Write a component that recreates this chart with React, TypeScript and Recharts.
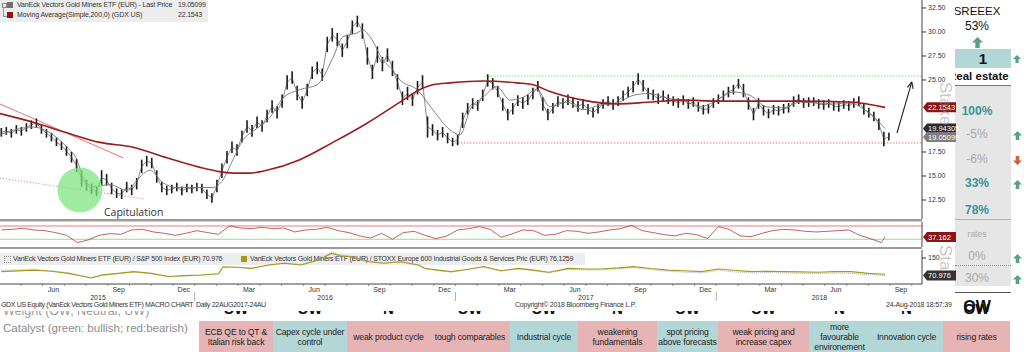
import React from "react";
import {
    ComposedChart,
    Line,
    ErrorBar,
    XAxis,
    YAxis,
    ReferenceLine,
    ReferenceDot,
} from "recharts";

const FONT = "'Liberation Sans', Arial, sans-serif";

// x axis: months since 1 Jan 2015
const X_DOMAIN: [number, number] = [3.04, 45.47];
const FIRST_WEEK = 3.1; // first weekly bar

// weekly [low, high] of VanEck Vectors Gold Miners ETF (EUR)
const bars2015: [number, number][] = [
    [19.1, 20.0], [19.3, 20.1], [19.0, 19.9], [19.4, 20.3], [19.2, 20.1], [19.6, 20.5], [19.9, 20.8], [20.0, 21.0],
    [19.4, 20.4], [19.0, 19.9], [18.6, 19.5], [18.1, 19.0], [17.7, 18.6], [17.1, 18.1], [16.4, 17.5], [15.4, 16.8],
    [13.9, 15.6], [13.5, 14.6], [13.1, 14.2], [12.9, 13.9], [14.0, 15.6], [14.0, 15.2], [13.1, 14.3], [12.7, 13.7],
    [12.6, 13.6], [13.3, 14.4], [13.0, 14.1], [13.6, 14.8], [15.3, 16.7], [16.0, 17.1], [15.8, 16.9], [14.3, 15.6],
    [13.3, 14.4], [13.0, 14.0], [13.2, 14.1], [13.4, 14.3], [13.0, 13.9], [13.3, 14.2], [13.2, 14.1],
];
const bars2016: [number, number][] = [
    [13.4, 14.3], [13.2, 14.2], [12.6, 13.6], [12.2, 13.2], [13.3, 14.6], [14.8, 16.3], [16.3, 17.6], [17.4, 18.6],
    [17.1, 18.3], [18.5, 19.7], [19.5, 20.8], [19.1, 20.3], [20.0, 21.2], [19.6, 20.8], [20.6, 21.9], [21.6, 22.9],
    [21.0, 22.3], [22.1, 23.5], [24.0, 25.5], [24.6, 25.9], [22.9, 24.4], [22.0, 23.3], [23.3, 24.6], [25.1, 26.4],
    [25.6, 26.9], [24.9, 26.2], [27.9, 29.5], [29.0, 30.4], [28.5, 29.9], [27.4, 28.8], [28.3, 29.7], [29.8, 31.2],
    [30.5, 31.7], [29.3, 30.9], [26.6, 28.4], [25.1, 26.6], [26.8, 28.5], [25.9, 27.4], [26.9, 28.3], [25.4, 27.0],
    [24.0, 25.6], [22.4, 23.8], [22.9, 24.3], [22.3, 23.6], [23.5, 24.9], [24.1, 25.5], [19.0, 21.2], [19.2, 20.4],
    [18.7, 19.8], [19.0, 20.1], [18.4, 19.5], [18.1, 19.0],
];
const bars2017: [number, number][] = [
    [18.2, 19.3], [20.0, 21.6], [21.4, 22.6], [22.0, 23.1], [21.8, 22.9], [22.8, 24.0], [24.3, 25.6], [24.0, 25.2],
    [23.2, 24.4], [21.8, 23.1], [20.8, 22.0], [21.4, 22.6], [22.3, 23.4], [22.0, 23.2], [22.4, 23.5], [23.0, 24.2],
    [23.8, 24.9], [21.8, 23.2], [20.8, 22.0], [21.5, 22.6], [22.2, 23.3], [22.0, 23.1], [22.4, 23.5], [22.1, 23.2],
    [21.7, 22.8], [22.0, 23.0], [21.4, 22.5], [21.1, 22.1], [21.5, 22.5], [22.0, 23.0], [22.3, 23.3], [21.9, 23.0],
    [22.3, 23.3], [22.8, 23.9], [23.2, 24.3], [23.7, 24.9], [24.5, 25.7], [23.8, 25.0], [23.0, 24.2], [22.9, 24.0],
    [22.5, 23.6], [22.8, 23.9], [22.5, 23.5], [22.3, 23.3], [22.1, 23.1], [22.4, 23.4], [22.0, 23.0], [22.2, 23.2],
    [21.7, 22.7], [21.4, 22.4], [21.5, 22.5], [22.1, 23.1],
];
const bars2018: [number, number][] = [
    [22.5, 23.5], [22.8, 23.9], [23.2, 24.3], [23.5, 24.5], [24.1, 25.1], [23.2, 24.6], [21.9, 23.2], [20.8, 22.1],
    [22.0, 23.1], [21.3, 22.4], [21.0, 22.0], [21.4, 22.4], [21.3, 22.3], [21.5, 22.5], [21.6, 22.6], [22.2, 23.3],
    [22.5, 23.5], [22.1, 23.1], [22.2, 23.2], [22.3, 23.2], [22.0, 23.0], [21.9, 22.9], [22.1, 23.0], [21.8, 22.8],
    [21.7, 22.7], [22.0, 22.9], [21.8, 22.8], [22.1, 23.1], [22.3, 23.3], [21.4, 22.5], [21.1, 22.1], [20.7, 21.7],
    [19.8, 21.0], [18.1, 19.6], [18.7, 19.5],
];

// short moving average (thin grey), [month, value]
const maFast: [number, number][] = [
    [3.04, 19.3], [4.56, 20.1], [5.34, 19.5], [6.12, 18.0], [6.58, 16.7], [6.86, 14.9], [7.32, 13.9], [8.1, 14.1],
    [8.88, 13.5], [9.48, 14.9], [9.94, 15.6], [10.54, 14.3], [11.18, 13.8], [12.84, 13.8], [13.3, 14.6], [13.76, 16.7],
    [14.22, 18.75], [14.77, 19.8], [15.46, 21.1], [16.06, 23.1], [16.84, 24.0], [17.63, 24.5], [18.36, 27.3], [18.82, 29.5],
    [19.47, 29.9], [19.74, 30.2], [20.07, 29.5], [20.66, 27.1], [21.12, 26.0], [21.45, 25.0], [22.23, 24.0], [22.96, 21.9],
    [23.75, 19.8], [24.21, 19.3], [24.67, 21.9], [25.27, 23.2], [25.91, 24.3], [26.51, 22.9], [27.11, 23.2], [27.75, 24.0],
    [28.35, 22.2], [29.13, 22.7], [29.87, 21.9], [30.65, 22.4], [31.43, 22.6], [32.17, 23.4], [32.95, 23.6], [33.73, 23.1],
    [34.47, 22.9], [35.25, 22.2], [36.03, 22.9], [36.77, 23.75], [37.55, 23.4], [38.33, 22.2], [39.07, 22.1], [39.85, 22.7],
    [40.64, 22.6], [41.37, 22.5], [42.15, 22.6], [42.94, 21.7], [43.5, 20.6], [43.77, 19.94],
];

// Moving Average(Simple,200,0)
const ma200: [number, number][] = [
    [3.04, 21.5], [4.56, 20.6], [6.12, 19.5], [7.64, 18.5], [9.16, 18.0], [10.72, 16.9], [12.24, 15.9], [13.02, 15.5],
    [13.76, 15.3], [14.54, 15.3], [15.32, 15.6], [16.84, 16.7], [18.36, 18.5], [19.93, 20.5], [21.45, 22.7], [22.37, 24.0],
    [22.96, 24.5], [23.75, 24.7], [25.27, 24.9], [26.83, 24.7], [27.57, 24.5], [28.35, 23.8], [29.87, 22.9], [31.43, 22.5],
    [32.95, 22.7], [34.47, 22.9], [36.03, 22.8], [37.55, 22.8], [39.85, 22.8], [42.15, 22.7], [43.77, 22.15],
];

// oscillator panel, half-month steps from FIRST_WEEK
const rsiValues = [
    58, 60, 63, 58, 56, 50, 42, 20, 28, 42, 47, 45, 58, 60, 52, 48, 42, 48, 56, 50,
    45, 70, 64, 62, 66, 62, 64, 52, 58, 60, 66, 56, 50, 40, 34, 48, 30, 50, 54, 42,
    32, 40, 58, 62, 68, 60, 36, 46, 58, 56, 42, 45, 56, 54, 48, 52, 58, 62, 72, 56,
    50, 44, 40, 48, 44, 32, 68, 60, 40, 38, 48, 56, 60, 58, 54, 52, 54, 56, 58, 42,
    32, 20,
];
const RSI_LAST: [number, number] = [43.77, 37.162];

// relative performance panel, [month, value]
const vsStoxx: [number, number][] = [
    [3.1, 88], [4.6, 95], [5.4, 90], [6.2, 80], [6.9, 66], [7.25, 59], [7.7, 72], [8.5, 80], [9.2, 88], [10.0, 80],
    [10.8, 66], [11.5, 70], [12.3, 73], [13.1, 78], [13.3, 110], [14.0, 108], [14.6, 103], [15.4, 118], [16.1, 126],
    [16.9, 118], [17.7, 141], [18.3, 171], [18.7, 160], [19.2, 156], [20.0, 133], [20.7, 126], [21.5, 133], [22.3, 118],
    [22.6, 103], [23.2, 95], [23.8, 88], [24.5, 98], [25.3, 111], [26.1, 92], [26.9, 103], [27.6, 95], [28.3, 85],
    [29.2, 103], [30.0, 100], [30.7, 100], [31.5, 105], [32.2, 111], [33.0, 102], [33.8, 95], [34.5, 92], [35.3, 88],
    [36.1, 100], [36.8, 94], [37.6, 88], [38.4, 90], [39.1, 88], [39.9, 87], [40.7, 85], [41.4, 88], [42.2, 88],
    [43.0, 80], [43.77, 76.1259],
];
const vsSpx: [number, number][] = [
    [3.1, 95], [4.6, 97], [5.4, 92], [6.2, 82], [6.9, 68], [7.25, 60], [7.7, 72], [8.5, 80], [9.2, 86], [10.0, 79],
    [10.8, 64], [11.5, 68], [12.3, 72], [13.1, 78], [13.3, 108], [14.0, 106], [14.6, 102], [15.4, 117], [16.1, 127],
    [16.9, 120], [17.7, 145], [18.3, 176], [18.7, 165], [19.2, 158], [20.0, 136], [20.7, 128], [21.5, 131], [22.3, 116],
    [22.6, 100], [23.2, 92], [23.8, 86], [24.5, 96], [25.3, 108], [26.1, 90], [26.9, 100], [27.6, 92], [28.3, 82],
    [29.2, 99], [30.0, 96], [30.7, 96], [31.5, 101], [32.2, 106], [33.0, 97], [33.8, 90], [34.5, 86], [35.3, 82],
    [36.1, 94], [36.8, 87], [37.6, 82], [38.4, 84], [39.1, 82], [39.9, 80], [40.7, 79], [41.4, 82], [42.2, 80],
    [43.0, 74], [43.77, 70.976],
];

const LAST_PRICE = 19.05099;
const MA200_LAST = 22.1543;
const MA_FAST_LAST = 19.94305;

// axis labels
const monthLabels = ["Jun", "Sep", "Dec", "Mar", "Jun", "Sep", "Dec", "Mar", "Jun", "Sep", "Dec", "Mar", "Jun", "Sep"];
const yearLabels = ["2015", "2016", "2017", "2018"];
const yearCentres = [7.55, 18, 30, 40.75];
const yearBounds = [12, 24, 36];

// annotations
const resistance = 25.4;
const support = 18.44;
const resistanceFrom = 25.36;
const supportFrom = 23.98;

// spreadsheet below / beside the chart
const weights = ["UW", "UW", "N", "UW", "UW", "N", "UW", "UW", "N", "N", "OW"];
const catalysts = [
    { text: "ECB QE to QT &\nItalian risk back", bull: false, w: 74 },
    { text: "Capex cycle under\ncontrol", bull: true, w: 74 },
    { text: "weak product cycle", bull: false, w: 83 },
    { text: "tough comparables", bull: false, w: 80 },
    { text: "Industrial cycle", bull: true, w: 68 },
    { text: "weakening\nfundamentals", bull: false, w: 79 },
    { text: "spot pricing\nabove forecasts", bull: true, w: 61 },
    { text: "weak pricing and\nincrease capex", bull: false, w: 91 },
    { text: "more\nfavourable\nenvironement", bull: true, w: 61 },
    { text: "Innovation cycle", bull: true, w: 73 },
    { text: "rising rates", bull: false, w: 67 },
];
const sidePct = [
    { t: "100%", c: "teal", y: 112 },
    { t: "-5%", c: "grey", y: 135, arrow: "up" },
    { t: "-6%", c: "grey", y: 160, arrow: "down" },
    { t: "33%", c: "teal", y: 184, arrow: "up" },
    { t: "78%", c: "teal", y: 211 },
];

const priceData = [...bars2015, ...bars2016, ...bars2017, ...bars2018].map(([lo, hi], i) => {
    const mid = (lo + hi) / 2;
    return { m: FIRST_WEEK + (i * 12) / 52, mid, err: [mid - lo, hi - mid] };
});
const toPts = (a: [number, number][]) => a.map(([m, v]) => ({ m, v }));
const rsiData = [...rsiValues.map((v, k) => ({ m: FIRST_WEEK + k * 0.5, v })), { m: RSI_LAST[0], v: RSI_LAST[1] }];

const TEAL = "#b3d7d7";
const PINK = "#e6b4b4";
const ARROW_GREEN = "#5c9f88";

function badge(text: string, fill: string) {
    return (props: any) => {
        const vb = props.viewBox;
        const x = vb.x + vb.width + 1;
        const y = vb.y;
        return (
            <g>
                <polygon
                    points={`${x},${y} ${x + 4},${y - 5} ${x + 33},${y - 5} ${x + 33},${y + 5} ${x + 4},${y + 5}`}
                    fill={fill}
                />
                <text x={x + 5} y={y + 2.7} fontSize={7.5} fill="#fff" fontFamily={FONT}>
                    {text}
                </text>
            </g>
        );
    };
}

function MonthTick({ x, y, payload }: any) {
    const v = payload.value;
    if (Number.isInteger(v)) {
        return <line x1={x} x2={x} y1={y} y2={y + 2} stroke="#777" strokeWidth={0.8} />;
    }
    const idx = Math.round((v - 5.5) / 3);
    return (
        <text x={x} y={y + 8} textAnchor="middle" fontSize={7} fill="#333" fontFamily={FONT}>
            {monthLabels[idx]}
        </text>
    );
}

function YearTick({ x, y, payload }: any) {
    const i = yearCentres.indexOf(payload.value);
    if (i < 0) {
        return <line x1={x} x2={x} y1={y - 1} y2={y + 8} stroke="#999" strokeWidth={0.8} />;
    }
    return (
        <text x={x} y={y + 7} textAnchor="middle" fontSize={7} fill="#333" fontFamily={FONT}>
            {yearLabels[i]}
        </text>
    );
}

function Arrow({ x, y, size, down, color }: { x: number; y: number; size: number; down?: boolean; color: string }) {
    return (
        <svg
            width={size}
            height={size}
            viewBox="0 0 10 10"
            style={{ position: "absolute", left: x - size / 2, top: y - size / 2, transform: down ? "rotate(180deg)" : undefined }}
        >
            <polygon points="5,0 10,5 7,5 7,10 3,10 3,5 0,5" fill={color} />
        </svg>
    );
}

const tiny: React.CSSProperties = { position: "absolute", fontSize: 7, letterSpacing: -0.2, color: "#333", whiteSpace: "nowrap", lineHeight: "8px" };
const ghost: React.CSSProperties = { position: "absolute", fontSize: 17, color: "rgba(150,150,150,0.55)", transform: "rotate(90deg)", transformOrigin: "0 0", whiteSpace: "nowrap" };

export default function App() {
    const monthTicks: number[] = [];
    for (let m = 4; m <= 45; m++) monthTicks.push(m);
    monthLabels.forEach((_, k) => monthTicks.push(5.5 + k * 3));
    const yearTicks = [...yearCentres, ...yearBounds];

    let cx = 199;
    const cells = catalysts.map((c) => {
        const left = cx;
        cx += c.w;
        return { ...c, left };
    });

    return (
        <div style={{ position: "absolute", left: 0, top: 0, width: 1024, height: 352, background: "#fff", overflow: "hidden", fontFamily: FONT }}>
            {/* spreadsheet layer */}
            <div style={{ position: "absolute", left: 3, top: 304, fontSize: 12.5, color: "#9a9a9a", whiteSpace: "nowrap" }}>
                Weight (OW, Neutral, UW)
            </div>
            {cells.map((c, i) => (
                <div
                    key={"w" + i}
                    style={{ position: "absolute", left: c.left, width: c.w, top: 300, textAlign: "center", fontSize: 15, fontWeight: 700, color: "#111" }}
                >
                    {weights[i]}
                </div>
            ))}
            <div style={{ position: "absolute", left: 3, top: 322, fontSize: 11.5, color: "#8c8c8c", whiteSpace: "nowrap" }}>
                Catalyst (green: bullish; red:bearish)
            </div>
            {cells.map((c, i) => (
                <div
                    key={"c" + i}
                    style={{
                        position: "absolute", left: c.left, width: c.w, top: 321, height: 31,
                        background: c.bull ? TEAL : PINK, display: "flex", alignItems: "center", justifyContent: "center",
                        textAlign: "center", fontSize: 8.6, letterSpacing: -0.15, lineHeight: "10px", color: "#222",
                        whiteSpace: "pre", overflow: "hidden",
                    }}
                >
                    {c.text}
                </div>
            ))}

            {/* right-hand summary column */}
            <div style={{ position: "absolute", left: 947, width: 60, top: 5, textAlign: "center", fontSize: 11.5, color: "#111" }}>SREEEX</div>
            <div style={{ position: "absolute", left: 947, width: 60, top: 19, textAlign: "center", fontSize: 12, color: "#111" }}>53%</div>
            <Arrow x={977} y={42} size={11} color={ARROW_GREEN} />
            <div style={{ position: "absolute", left: 955, top: 49, width: 56, height: 19, background: TEAL, textAlign: "center", fontSize: 15, fontWeight: 700, lineHeight: "19px", color: "#111" }}>1</div>
            <Arrow x={1017} y={59} size={8} color={ARROW_GREEN} />
            <div style={{ position: "absolute", left: 948, top: 70, fontSize: 11.5, fontWeight: 700, color: "#111", whiteSpace: "nowrap" }}>Real estate</div>
            <div style={{ position: "absolute", left: 955, top: 85, width: 56, height: 200, background: "#e6e6e6", borderTop: "1px solid #777" }} />
            {sidePct.map((p) => (
                <React.Fragment key={p.t}>
                    <div
                        style={{
                            position: "absolute", left: 947, width: 60, top: p.y - 8, textAlign: "center", fontSize: 12,
                            fontWeight: p.c === "teal" ? 700 : 400, color: p.c === "teal" ? "#3a9595" : "#a8a8a8",
                        }}
                    >
                        {p.t}
                    </div>
                    {p.arrow && <Arrow x={1017} y={p.y} size={9} down={p.arrow === "down"} color={p.arrow === "down" ? "#d65f3c" : ARROW_GREEN} />}
                </React.Fragment>
            ))}
            <div style={{ position: "absolute", left: 955, top: 219, width: 56, borderTop: "1px solid #b0b0b0" }} />
            <div style={{ position: "absolute", left: 947, width: 60, top: 229, textAlign: "center", fontSize: 8.5, color: "#a8a8a8" }}>rates</div>
            <div style={{ position: "absolute", left: 947, width: 60, top: 249, textAlign: "center", fontSize: 12, color: "#a8a8a8" }}>0%</div>
            <Arrow x={1017} y={258} size={9} color={ARROW_GREEN} />
            <div style={{ position: "absolute", left: 955, top: 265, width: 56, borderTop: "1px dotted #888" }} />
            <div style={{ position: "absolute", left: 947, width: 60, top: 271, textAlign: "center", fontSize: 12, color: "#a8a8a8" }}>30%</div>
            <Arrow x={1017} y={279} size={9} color={ARROW_GREEN} />
            <div style={{ position: "absolute", left: 955, top: 292, width: 56, borderTop: "1px solid #555" }} />
            <div style={{ position: "absolute", left: 947, width: 60, top: 298, textAlign: "center", fontSize: 16, fontWeight: 700, color: "#111" }}>OW</div>

            {/* Bloomberg chart layer */}
            <div style={{ position: "absolute", left: 0, top: 0, width: 955, height: 311, background: "#fff" }}>
                <div style={{ position: "absolute", left: 0, top: 0 }}>
                    <ComposedChart width={965} height={219} data={priceData} margin={{ top: 0, right: 0, bottom: 0, left: 0 }}>
                        <XAxis dataKey="m" type="number" domain={X_DOMAIN} hide allowDataOverflow />
                        <YAxis
                            orientation="right"
                            width={43}
                            domain={[10.52, 33.333]}
                            ticks={[12.5, 15, 17.5, 25, 27.5, 30, 32.5]}
                            tickFormatter={(v) => v.toFixed(2)}
                            tick={{ fontSize: 7, fill: "#333", fontFamily: FONT }}
                            tickSize={4}
                            tickMargin={2}
                            tickLine={{ stroke: "#333" }}
                            axisLine={{ stroke: "#444" }}
                            allowDataOverflow
                        />
                        <ReferenceLine segment={[{ x: 3.04, y: 22.5 }, { x: 8.7, y: 16.9 }]} stroke="#f07070" strokeWidth={1} />
                        <ReferenceLine segment={[{ x: 3.04, y: 14.79 }, { x: 9.71, y: 12.6 }]} stroke="#f07070" strokeDasharray="1 2" />
                        <ReferenceLine segment={[{ x: resistanceFrom, y: resistance }, { x: X_DOMAIN[1], y: resistance }]} stroke="#7be07b" strokeDasharray="1.5 1.5" />
                        <ReferenceLine segment={[{ x: supportFrom, y: support }, { x: X_DOMAIN[1], y: support }]} stroke="#f07070" strokeDasharray="1.5 1.5" />
                        <Line dataKey="mid" stroke="#3a3a3a" strokeWidth={0.6} dot={false} isAnimationActive={false}>
                            <ErrorBar dataKey="err" direction="y" width={0} stroke="#1a1a1a" strokeWidth={1.6} isAnimationActive={false} />
                        </Line>
                        <Line data={toPts(maFast)} dataKey="v" stroke="#777" strokeWidth={0.9} dot={false} isAnimationActive={false} type="monotone" />
                        <Line data={toPts(ma200)} dataKey="v" stroke="#9b1c1c" strokeWidth={1.6} dot={false} isAnimationActive={false} type="monotone" />
                        <ReferenceDot x={6.72} y={13.54} r={22.5} fill="#7fe47f" fillOpacity={0.75} stroke="none" />
                        <ReferenceLine segment={[{ x: 44.32, y: 19.48 }, { x: 45.0, y: 24.8 }]} stroke="#222" strokeWidth={1.1} ifOverflow="visible" />
                        <ReferenceLine segment={[{ x: 44.8, y: 24.24 }, { x: 45.0, y: 24.8 }]} stroke="#222" strokeWidth={1.1} ifOverflow="visible" />
                        <ReferenceLine segment={[{ x: 45.06, y: 24.07 }, { x: 45.0, y: 24.8 }]} stroke="#222" strokeWidth={1.1} ifOverflow="visible" />
                        <ReferenceLine y={MA200_LAST} stroke="none" label={badge("22.1543", "#8c1414")} />
                        <ReferenceLine y={MA_FAST_LAST} stroke="none" label={badge("19.94305", "#2b2b2b")} />
                        <ReferenceLine y={LAST_PRICE} stroke="none" label={badge("19.05099", "#7d7d7d")} />
                    </ComposedChart>
                </div>

                {/* price legend */}
                <div style={{ position: "absolute", left: 0, top: 0, width: 208, height: 22, background: "#ededed" }}>
                    <div style={{ position: "absolute", left: 2, top: 3, width: 3, height: 3, border: "0.5px solid #888" }} />
                    <div style={{ position: "absolute", left: 3, top: 7, width: 3, height: 9, borderLeft: "1px solid #999", borderBottom: "1px solid #999" }} />
                    <div style={{ position: "absolute", left: 7, top: 2, width: 6, height: 6, background: "#707070" }} />
                    <div style={{ position: "absolute", left: 7, top: 12, width: 6, height: 6, background: "#9b1010" }} />
                    <div style={{ ...tiny, left: 17, top: 1, letterSpacing: -0.15 }}>VanEck Vectors Gold Miners ETF (EUR) - Last Price</div>
                    <div style={{ ...tiny, left: 178, top: 1 }}>19.05099</div>
                    <div style={{ ...tiny, left: 17, top: 11, letterSpacing: -0.1 }}>Moving Average(Simple,200,0) (GDX US)</div>
                    <div style={{ ...tiny, left: 178, top: 11 }}>22.1543</div>
                </div>

                <div style={{ position: "absolute", left: 104, top: 205, fontSize: 10.5, color: "#333", fontFamily: "'Open Sans', Arial, sans-serif" }}>Capitulation</div>

                {/* panel separators */}
                <div style={{ position: "absolute", left: 0, top: 219, width: 922, height: 2, background: "#9a9a9a" }} />
                <div style={{ position: "absolute", left: 0, top: 221, width: 922, height: 1, background: "#d0d0d0" }} />
                <div style={{ position: "absolute", left: 0, top: 247, width: 922, height: 2, background: "#9a9a9a" }} />

                <div style={{ position: "absolute", left: 0, top: 222 }}>
                    <ComposedChart width={965} height={25} data={rsiData} margin={{ top: 0, right: 0, bottom: 0, left: 0 }}>
                        <XAxis dataKey="m" type="number" domain={X_DOMAIN} hide allowDataOverflow />
                        <YAxis orientation="right" width={43} domain={[6.8, 82]} ticks={[]} axisLine={{ stroke: "#444" }} allowDataOverflow />
                        <ReferenceLine y={70} stroke="#ea6b6b" strokeWidth={0.9} />
                        <ReferenceLine y={30} stroke="#80de80" strokeWidth={0.9} />
                        <Line dataKey="v" stroke="#b13a3a" strokeWidth={0.8} dot={false} isAnimationActive={false} />
                        <ReferenceLine y={RSI_LAST[1]} stroke="none" label={badge("37.162", "#8c1414")} />
                    </ComposedChart>
                </div>

                {/* relative performance legend (under the lines) */}
                <div style={{ position: "absolute", left: 0, top: 253, width: 585, height: 12, background: "#ededed" }}>
                    <div style={{ position: "absolute", left: 4, top: 3, width: 5, height: 5, border: "1px dotted #999" }} />
                    <div style={{ ...tiny, left: 13, top: 2 }}>VanEck Vectors Gold Miners ETF (EUR) / S&amp;P 500 Index (EUR) 70.976</div>
                    <div style={{ position: "absolute", left: 241, top: 3, width: 6, height: 6, background: "#a39c14" }} />
                    <div style={{ ...tiny, left: 250, top: 2 }}>
                        VanEck Vectors Gold Miners ETF (EUR) / STOXX Europe 600 Industrial Goods &amp; Services Pric (EUR) 76.1259
                    </div>
                </div>

                <div style={{ position: "absolute", left: 0, top: 250 }}>
                    <ComposedChart width={965} height={55} margin={{ top: 0, right: 0, bottom: 0, left: 0 }}>
                        <XAxis
                            xAxisId="m"
                            dataKey="m"
                            type="number"
                            domain={X_DOMAIN}
                            ticks={monthTicks}
                            interval={0}
                            tick={<MonthTick />}
                            tickLine={false}
                            tickSize={0}
                            tickMargin={0}
                            height={9}
                            axisLine={{ stroke: "#444" }}
                            allowDataOverflow
                        />
                        <XAxis
                            xAxisId="y"
                            dataKey="m"
                            type="number"
                            domain={X_DOMAIN}
                            ticks={yearTicks}
                            interval={0}
                            tick={<YearTick />}
                            tickLine={false}
                            tickSize={0}
                            tickMargin={0}
                            height={12}
                            axisLine={false}
                            allowDataOverflow
                        />
                        <YAxis
                            orientation="right"
                            width={43}
                            domain={[31.8, 186.4]}
                            ticks={[100, 150]}
                            tick={{ fontSize: 7, fill: "#333", fontFamily: FONT }}
                            tickSize={4}
                            tickMargin={2}
                            tickLine={{ stroke: "#333" }}
                            axisLine={{ stroke: "#444" }}
                            allowDataOverflow
                        />
                        <Line xAxisId="m" data={toPts(vsSpx)} dataKey="v" stroke="#a0a0a0" strokeWidth={0.9} strokeDasharray="1 1" dot={false} isAnimationActive={false} />
                        <Line xAxisId="m" data={toPts(vsStoxx)} dataKey="v" stroke="#a39c14" strokeWidth={1.1} dot={false} isAnimationActive={false} />
                        <ReferenceLine xAxisId="m" y={70.976} stroke="none" label={badge("70.976", "#333")} />
                    </ComposedChart>
                </div>

                {/* footer */}
                <div style={{ ...tiny, left: 1, top: 301, letterSpacing: -0.35 }}>GDX US Equity (VanEck Vectors Gold Miners ETF) MACRO CHART</div>
                <div style={{ ...tiny, left: 196, top: 301, letterSpacing: -0.3 }}>Daily 22AUG2017-24AU</div>
                <div style={{ ...tiny, left: 515, top: 301 }}>Copyright© 2018 Bloomberg Finance L.P.</div>
                <div style={{ ...tiny, left: 886, top: 301 }}>24-Aug-2018 18:57:39</div>
            </div>

            {/* column headers showing through */}
            <div style={{ ...ghost, left: 955, top: 82 }}>Stake</div>
            <div style={{ ...ghost, left: 955, top: 245 }}>Sta</div>
        </div>
    );
}
